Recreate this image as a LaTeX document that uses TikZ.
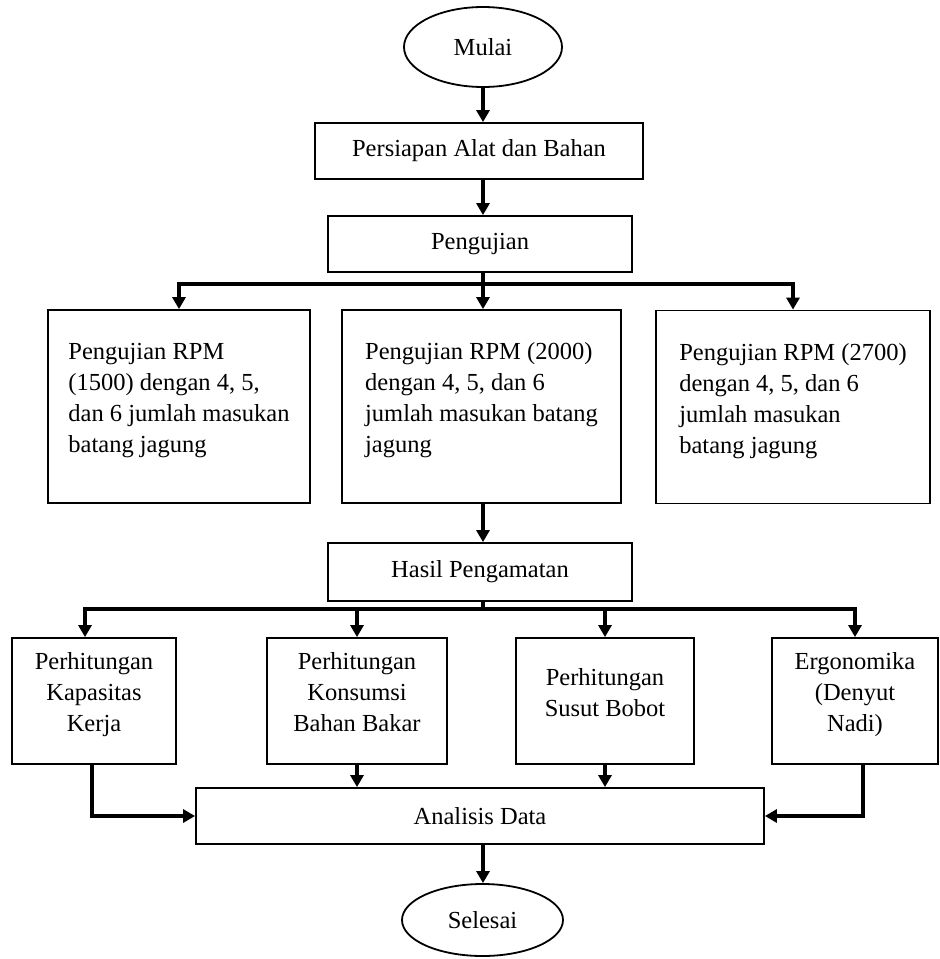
\documentclass[tikz,border=0pt]{standalone}
\usepackage{fontspec}
\setmainfont{Liberation Serif}
\usetikzlibrary{arrows.meta,positioning,shapes.geometric}
\newcommand{\padlow}{\rule[-18pt]{0pt}{18pt}}

\begin{document}
\begin{tikzpicture}[
  x=1pt,y=-1pt,
  every node/.style={font=\fontsize{24.5}{31}\selectfont},
  box/.style={draw,line width=1.8pt,minimum height=56pt,inner sep=0pt},
  term/.style={ellipse,draw,line width=1.8pt,inner sep=0pt},
  rpm/.style={box,minimum height=193pt,align=left},
  calc/.style={box,minimum height=126pt,align=center},
  a/.style={-{Triangle[length=12pt,width=13pt]},line width=3.3pt},
  bus/.style={line width=3.6pt}
]
  \useasboundingbox (0,0) rectangle (940,959);

  \node[term,minimum width=158pt,minimum height=80pt] (mulai) at (483,47) {Mulai};
  \node[box,minimum width=328pt] (persiapan) at (479,151) {Persiapan Alat dan Bahan};
  \node[box,minimum width=304pt] (pengujian) at (480,244) {Pengujian};

  \node[rpm,minimum width=262pt] (rpm1) at (179,406.5)
    {Pengujian RPM\\(1500) dengan 4, 5,\\dan 6 jumlah masukan\\batang jagung\padlow};
  \node[rpm,minimum width=279pt] (rpm2) at (481.5,406.5)
    {Pengujian RPM (2000)\\dengan 4, 5, dan 6\\jumlah masukan batang\\jagung\padlow};
  \node[rpm,minimum width=274pt] (rpm3) at (793,407)
    {Pengujian RPM (2700)\\dengan 4, 5, dan 6\\jumlah masukan\\batang jagung\padlow};

  \node[box,minimum width=304pt,minimum height=58pt] (hasil) at (480,572) {Hasil Pengamatan};

  \node[calc,minimum width=164pt] (k1) at (94,701) {Perhitungan\\Kapasitas\\Kerja\padlow};
  \node[calc,minimum width=180pt] (k2) at (357,701) {Perhitungan\\Konsumsi\\Bahan Bakar\padlow};
  \node[calc,minimum width=178pt] (k3) at (605,701) {Perhitungan\\Susut Bobot\padlow};
  \node[calc,minimum width=166pt] (k4) at (855,701) {Ergonomika\\(Denyut\\Nadi)\padlow};

  \node[box,minimum width=568pt] (analisis) at (480,816) {Analisis Data};
  \node[term,minimum width=161pt,minimum height=72pt] (selesai) at (482.5,920) {Selesai};

  % branch points
  \coordinate (bus1) at (483,284);
  \coordinate (bus2) at (483,609);

  \draw[a] (mulai.south) -- (mulai.south |- persiapan.north);
  \draw[a] (persiapan.south -| mulai) -- (mulai |- pengujian.north);
  \draw[a] (pengujian.south -| bus1) -- (bus1 |- rpm2.north);
  \draw[a,line width=3.6pt] (bus1) -| (rpm1.north);
  \draw[a,line width=3.6pt] (bus1) -| (rpm3.north);
  \draw[a] (rpm2.south -| bus1) -- (bus1 |- hasil.north);

  \draw[bus] (hasil.south -| bus2) -- (bus2);
  \draw[a,line width=3.6pt] (bus2) -| ([xshift=-9pt]k1.north);
  \draw[a] (bus2) -| (k2.north);
  \draw[a] (bus2) -| (k3.north);
  \draw[a,line width=3.6pt] (bus2) -| (k4.north);

  \draw[a] ([xshift=-2pt]k1.south) |- (analisis.west);
  \draw[a] (k2.south) -- (k2.south |- analisis.north);
  \draw[a] (k3.south) -- (k3.south |- analisis.north);
  \draw[a] ([xshift=8pt]k4.south) |- (analisis.east);
  \draw[a] (analisis.south -| bus2) -- (bus2 |- selesai.north);
\end{tikzpicture}
\end{document}
